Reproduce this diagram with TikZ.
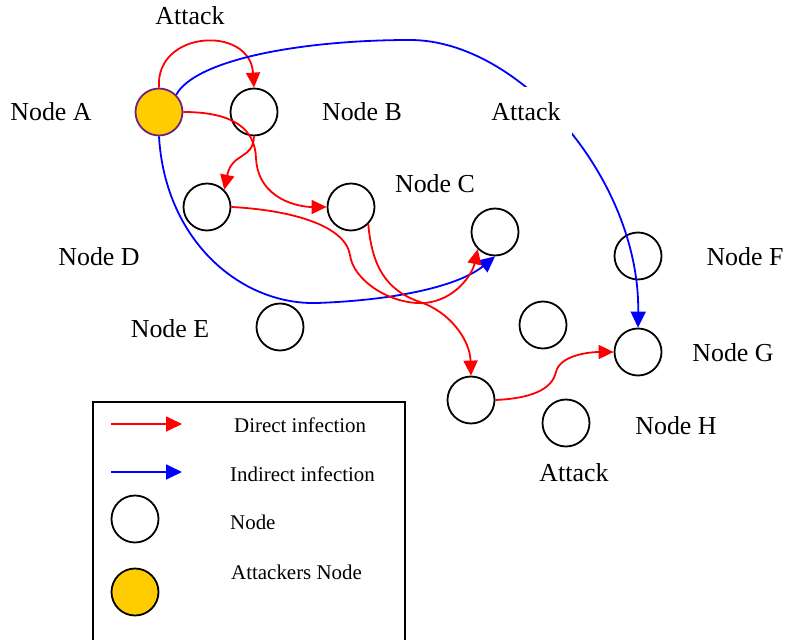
\documentclass[tikz,border=0pt]{standalone}
\usepackage{fontspec}
\setmainfont{Liberation Serif}
\usetikzlibrary{arrows.meta}
\definecolor{attk}{RGB}{255,204,0}
\definecolor{attkborder}{RGB}{112,32,128}
\tikzset{
  nd/.style={circle, draw=black, line width=1.8bp, minimum size=47bp, inner sep=0pt, fill=white},
  attacker/.style={nd, fill=attk, draw=attkborder},
  lbl/.style={font=\fontsize{26}{30}\selectfont, inner sep=0pt, anchor=base},
  leg/.style={font=\fontsize{21}{25}\selectfont, inner sep=0pt, anchor=west},
  direct/.style={draw=red, line width=1.8bp, -{Triangle[length=15bp,width=14bp]}},
  indirect/.style={draw=blue, line width=1.8bp, -{Triangle[length=16bp,width=15bp]}},
}
\begin{document}
\begin{tikzpicture}[x=1bp,y=-1bp]
\useasboundingbox (0,0) rectangle (785,640);
% nodes
\node[attacker] (A) at (159,112) {};
\node[nd] (B) at (254,112) {};
\node[nd] (C) at (351,207) {};
\node[nd] (D) at (207,207) {};
\node[nd] (C2) at (495,232) {};
\node[nd] (E) at (280,327) {};
\node[nd] (M) at (543,325) {};
\node[nd] (F) at (638,256) {};
\node[nd] (G) at (638,352) {};
\node[nd] (P) at (471,400) {};
\node[nd] (H) at (566,423) {};
% connectors
\draw[direct] (A.north) .. controls (155,30) and (250,25) .. (B.north);
\draw[indirect] (A.45) .. controls (195,60) and (300,40) .. (410,40)
  .. controls (520,40) and (640,180) .. (G.north);
\draw[indirect] (A.south) .. controls (165,240) and (240,305) .. (317,303)
  .. controls (400,300) and (460,285) .. (C2.south);
\draw[direct] (A.east) .. controls (235,112) and (255,130) .. (256,158)
  .. controls (258,200) and (300,207) .. (C.west);
\draw[direct] (B.south) .. controls (253,160) and (232,152) .. (D.north east);
\draw[direct] (D.east) .. controls (290,210) and (345,225) .. (350,255)
  .. controls (353,280) and (390,305) .. (425,303)
  .. controls (455,300) and (472,275) .. (C2.south west);
\draw[direct] (C.south east) .. controls (372,265) and (385,290) .. (420,302)
  .. controls (450,312) and (470,340) .. (P.north);
\draw[direct] (P.east) .. controls (540,398) and (553,385) .. (556,372)
  .. controls (560,355) and (590,352) .. (G.west);
% labels
\node[lbl] (atk1) at (190,25) {Attack};
\node[font=\fontsize{26}{30}\selectfont, fill=white, inner sep=0pt, minimum width=92bp, minimum height=50bp] (atk2) at (526,112) {Attack};
\node[lbl] (atk3) at (574,481) {Attack};
\node[lbl] (la) at (51,121) {Node A};
\node[lbl] (lb) at (362,121) {Node B};
\node[lbl] (lc) at (435,193) {Node C};
\node[lbl] (ld) at (99,265) {Node D};
\node[lbl] (lf) at (745,265) {Node F};
\node[lbl] (le) at (170,337) {Node E};
\node[lbl] (lg) at (733,361) {Node G};
\node[lbl] (lh) at (676,434) {Node H};
% legend
\draw[line width=1.4bp] (93,645) -- (93,402) -- (405,402) -- (405,645);
\coordinate (r1) at (111,424);
\coordinate (r2) at (182,424);
\coordinate (b1) at (111,472);
\coordinate (b2) at (182,472);
\draw[direct,-{Triangle[length=16bp,width=15bp]}] (r1) -- (r2);
\draw[indirect] (b1) -- (b2);
\node[nd] (legn) at (135,519) {};
\node[nd, fill=attk] (lega) at (135,592) {};
\node[leg] (t1) at (234,425) {Direct infection};
\node[leg] (t2) at (230,474) {Indirect infection};
\node[leg] (t3) at (230,522) {Node};
\node[leg] (t4) at (231,572) {Attackers Node};
\end{tikzpicture}
\end{document}
